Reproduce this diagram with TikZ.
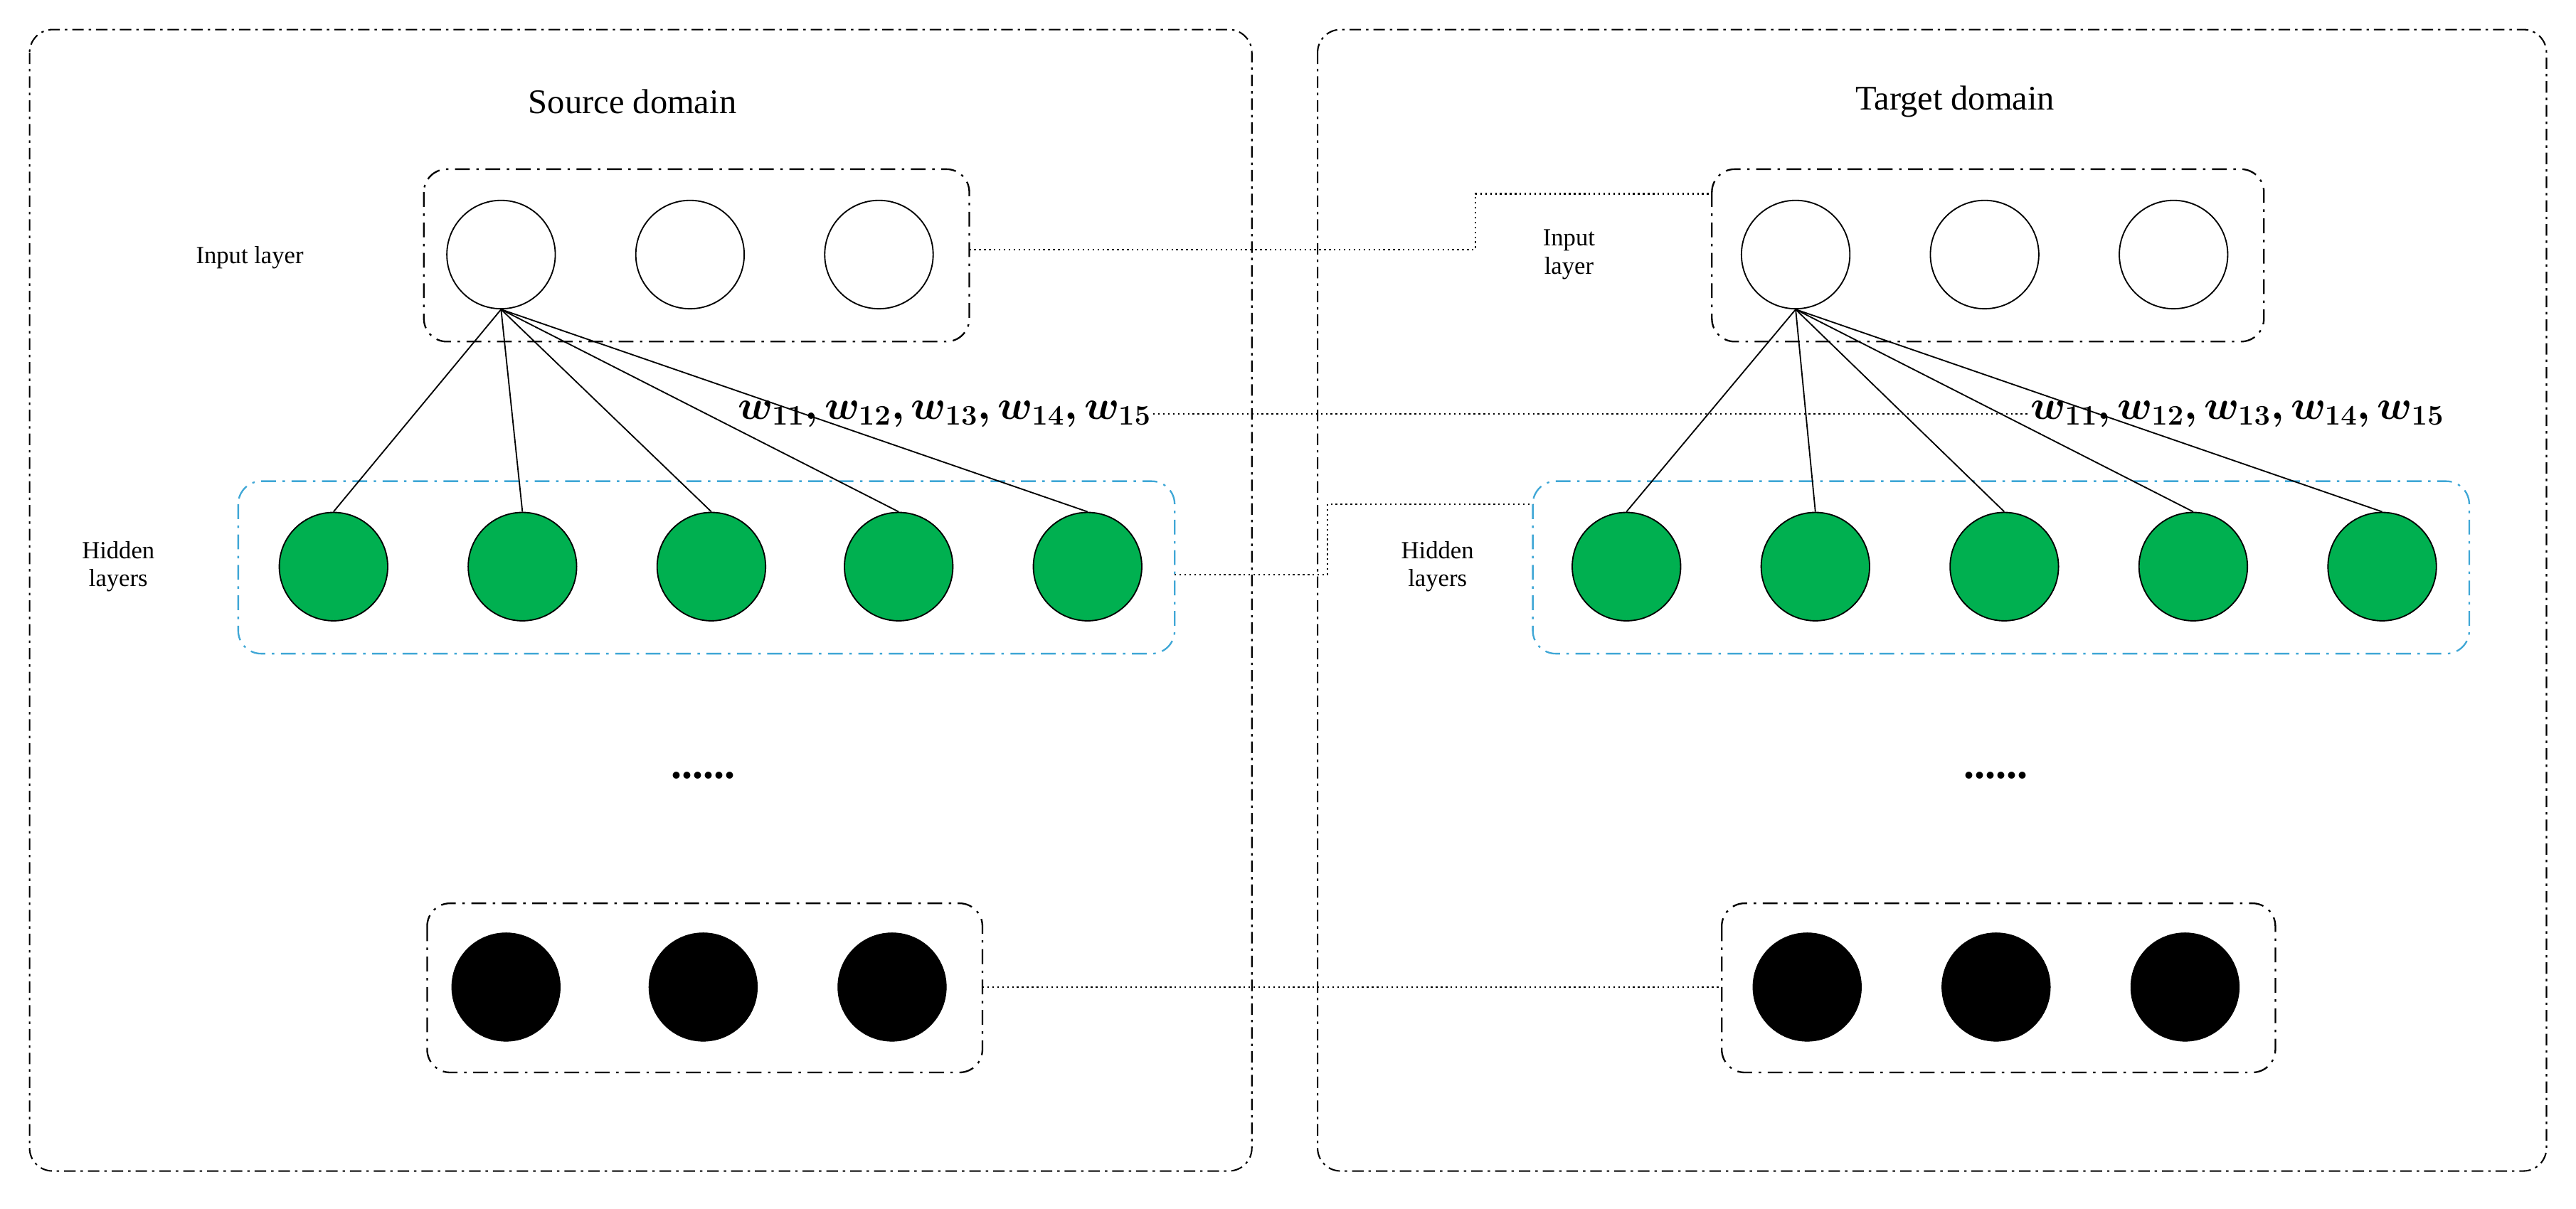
\documentclass[tikz,border=0pt]{standalone}
\usepackage{amsmath,bm}
\usepackage{fontspec}
\setmainfont{Liberation Serif}
\definecolor{hgreen}{HTML}{00B050}
\definecolor{hblue}{HTML}{3FA7D6}
\begin{document}
\begin{tikzpicture}[x=1pt,y=-1pt,
  outer/.style={draw, dash pattern=on 7pt off 3pt on 1.5pt off 3pt, rounded corners=14pt, line width=0.9pt},
  grp/.style={draw, dash pattern=on 9pt off 4pt on 1.5pt off 4pt, rounded corners=14pt, line width=1pt},
  hgrp/.style={draw=hblue, dash pattern=on 9pt off 4pt on 1.5pt off 4pt, rounded corners=14pt, line width=1pt},
  inn/.style={circle, draw, line width=0.8pt, fill=white, minimum size=66pt, inner sep=0pt},
  hid/.style={circle, draw, line width=0.8pt, fill=hgreen, minimum size=66pt, inner sep=0pt},
  outn/.style={circle, draw, fill=black, minimum size=66pt, inner sep=0pt},
  lab/.style={font=\fontsize{15}{17}\selectfont, align=center},
  ttl/.style={font=\fontsize{21}{24}\selectfont},
  dots/.style={font=\fontsize{26}{28}\selectfont\bfseries},
  wl/.style={font=\fontsize{24}{26}\selectfont, inner sep=1pt},
  conn/.style={line width=0.8pt},
  dotc/.style={dotted, line width=1pt}]
\useasboundingbox (0,0) rectangle (1568,736);
\fill[white] (0,0) rectangle (1568,736);
% outer boxes
\draw[outer] (18,18) rectangle (762,713);
\draw[outer] (802,18) rectangle (1550,713);
\node[ttl] (st) at (385,62) {Source domain};
\node[ttl] (tt) at (1190,62) {Target domain};
% group boxes
\draw[grp] (258,103) rectangle (590,208);
\draw[hgrp] (145,293) rectangle (715,398);
\draw[grp] (260,550) rectangle (598,653);
\draw[grp] (1042,103) rectangle (1378,208);
\draw[hgrp] (933,293) rectangle (1503,398);
\draw[grp] (1048,550) rectangle (1385,653);
\coordinate (liR) at (590,152);
\coordinate (riL) at (1042,118);
\coordinate (lhR) at (715,350);
\coordinate (rhL) at (933,307);
\coordinate (loR) at (598,601);
\coordinate (roL) at (1048,601);
% nodes left
\node[inn] (a1) at (305,155) {};
\node[inn] (a2) at (420,155) {};
\node[inn] (a3) at (535,155) {};
\foreach \i/\x in {1/203,2/318,3/433,4/547,5/662} \node[hid] (h\i) at (\x,345) {};
\node[outn] (o1) at (308,601) {};
\node[outn] (o2) at (428,601) {};
\node[outn] (o3) at (543,601) {};
\node[lab] (il) at (152,157) {Input layer};
\node[lab] (hl) at (72,345) {Hidden\\layers};
\node[dots] (d1) at (428,472) {......};
\node[wl] (w1) at (575,252) {$\bm{w_{11},w_{12},w_{13},w_{14},w_{15}}$};
\foreach \i in {1,...,5} \draw[conn] (a1.south) -- (h\i.north);
% nodes right
\node[inn] (b1) at (1093,155) {};
\node[inn] (b2) at (1208,155) {};
\node[inn] (b3) at (1323,155) {};
\foreach \i/\x in {1/990,2/1105,3/1220,4/1335,5/1450} \node[hid] (g\i) at (\x,345) {};
\node[outn] (p1) at (1100,601) {};
\node[outn] (p2) at (1215,601) {};
\node[outn] (p3) at (1330,601) {};
\node[lab] (il2) at (955,155) {Input\\layer};
\node[lab] (hl2) at (875,345) {Hidden\\layers};
\node[dots] (d2) at (1215,472) {......};
\node[wl] (w2) at (1362,252) {$\bm{w_{11},w_{12},w_{13},w_{14},w_{15}}$};
\foreach \i in {1,...,5} \draw[conn] (b1.south) -- (g\i.north);
% dotted connectors
\draw[dotc] (liR) -- (898,152) -- (898,118) -- (riL);
\draw[dotc] (w1.east) -- (w2.west);
\draw[dotc] (lhR) -- (808,350) -- (808,307) -- (rhL);
\draw[dotc] (loR) -- (roL);
\end{tikzpicture}
\end{document}
